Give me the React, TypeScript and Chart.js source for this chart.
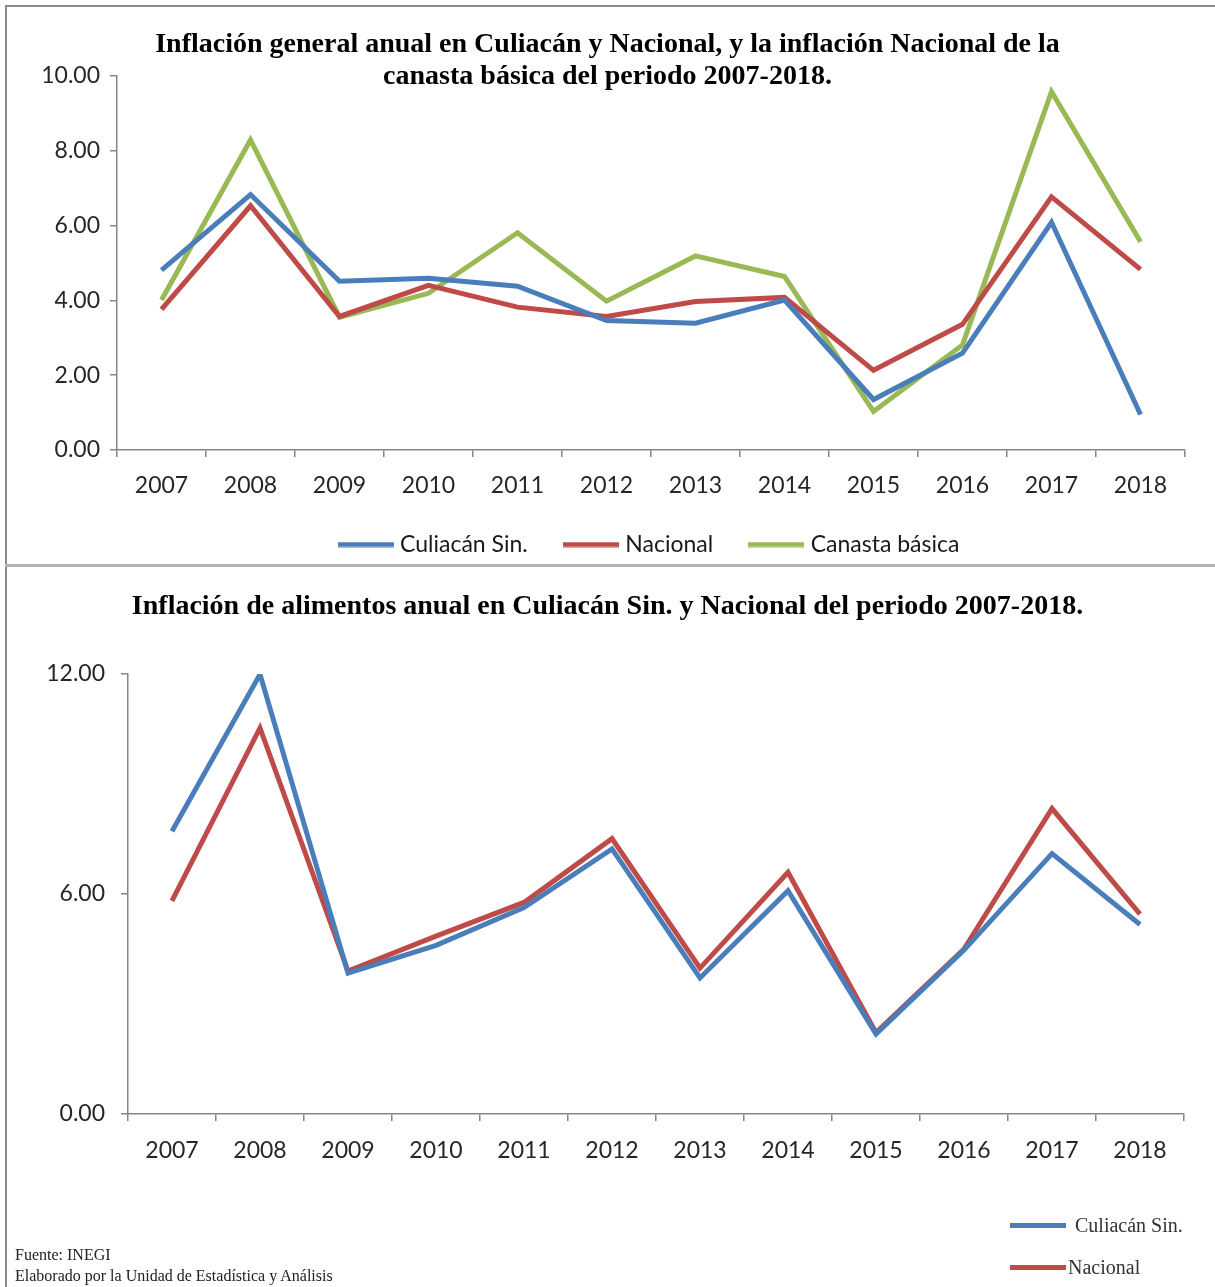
import React, { useEffect, useRef } from 'react';
import { Chart, registerables } from 'chart.js';

Chart.register(...registerables);

const years = ['2007', '2008', '2009', '2010', '2011', '2012', '2013', '2014', '2015', '2016', '2017', '2018'];

const culiacanGeneral = [4.81, 6.83, 4.51, 4.59, 4.38, 3.46, 3.39, 4.01, 1.35, 2.59, 6.09, 0.95];
const nacionalGeneral = [3.76, 6.53, 3.57, 4.40, 3.82, 3.57, 3.97, 4.08, 2.13, 3.36, 6.77, 4.83];
const canastaBasica = [4.01, 8.29, 3.55, 4.19, 5.81, 3.98, 5.19, 4.64, 1.03, 2.81, 9.58, 5.57];

const culiacanAlimentos = [7.71, 11.99, 3.84, 4.60, 5.63, 7.23, 3.71, 6.09, 2.18, 4.47, 7.10, 5.17];
const nacionalAlimentos = [5.81, 10.53, 3.90, 4.85, 5.77, 7.51, 3.98, 6.59, 2.22, 4.50, 8.33, 5.45];

const seriesNames = ['Culiacán Sin.', 'Nacional', 'Canasta básica'];
const topTitle = ['Inflación general anual en Culiacán y Nacional, y la inflación Nacional de la', 'canasta básica del periodo 2007-2018.'];
const bottomTitle = 'Inflación de alimentos anual en Culiacán Sin. y Nacional del periodo 2007-2018.';
const footerLines = ['Fuente: INEGI', 'Elaborado por la Unidad de Estadística y Análisis'];

const BLUE = '#4A7EBB';
const RED = '#BE4B48';
const GREEN = '#98B954';
const AXIS = '#868686';
const TICK_FONT = "Lato, 'Open Sans', sans-serif";
const SERIF = "'Liberation Serif', 'DejaVu Serif', serif";

function legendLine(color: string) {
  const c = document.createElement('canvas');
  c.width = 56;
  c.height = 6;
  const ctx = c.getContext('2d');
  if (ctx) {
    ctx.fillStyle = color;
    ctx.fillRect(0, 0.5, 56, 5);
  }
  return c;
}

function lineDs(label: string, data: number[], color: string) {
  return {
    label,
    data,
    borderColor: color,
    backgroundColor: color,
    borderWidth: 5,
    pointRadius: 0,
    pointHoverRadius: 0,
    pointStyle: legendLine(color) as any,
    tension: 0,
    fill: false,
  };
}

function scales(max: number, step: number, yWidth: number, xHeight: number, yPad: number, xPad: number, rightW: number) {
  return {
    x: {
      type: 'category' as const,
      offset: true,
      grid: { display: true, offset: true, drawOnChartArea: false, drawTicks: true, tickLength: 7, color: AXIS, lineWidth: 1.5 },
      border: { display: true, color: AXIS, width: 1.5 },
      ticks: { color: '#262626', font: { family: TICK_FONT, size: 23 }, padding: xPad, maxRotation: 0, autoSkip: false },
      afterFit: (s: any) => { s.height = xHeight; },
    },
    y: {
      min: 0,
      max,
      grid: { display: true, drawOnChartArea: false, drawTicks: true, tickLength: 7, color: AXIS, lineWidth: 1.5 },
      border: { display: true, color: AXIS, width: 1.5 },
      ticks: {
        stepSize: step,
        color: '#262626',
        font: { family: TICK_FONT, size: 23 },
        padding: yPad,
        callback: (v: any) => Number(v).toFixed(2),
      },
      afterFit: (s: any) => { s.width = yWidth; },
    },
    spacer: {
      type: 'linear' as const,
      position: 'right' as const,
      display: true,
      grid: { display: false, drawTicks: false },
      border: { display: false },
      ticks: { display: false },
      afterFit: (s: any) => { s.width = rightW; },
    },
  };
}

function TopChart() {
  const ref = useRef<HTMLCanvasElement | null>(null);
  useEffect(() => {
    if (!ref.current) return;
    const chart = new Chart(ref.current, {
      type: 'line',
      data: {
        labels: years,
        datasets: [
          lineDs(seriesNames[0], culiacanGeneral, BLUE),
          lineDs(seriesNames[1], nacionalGeneral, RED),
          lineDs(seriesNames[2], canastaBasica, GREEN),
        ],
      },
      options: {
        responsive: false,
        animation: false,
        devicePixelRatio: 1,
        layout: { padding: 0 },
        plugins: {
          title: {
            display: true,
            text: topTitle,
            color: '#000',
            font: { family: SERIF, size: 28, weight: 'bold', lineHeight: 1.143 },
            padding: { top: 29, bottom: -17 },
          },
          legend: {
            display: true,
            position: 'bottom',
            fullSize: false,
            labels: {
              usePointStyle: true,
              pointStyleWidth: 46,
              boxHeight: 23,
              padding: 40,
              color: '#1a1a1a',
              font: { family: TICK_FONT, size: 23 },
            },
          },
          tooltip: { enabled: false },
        },
        scales: scales(10, 2, 117, 43, 10, 15, 30) as any,
      },
    });
    return () => chart.destroy();
  }, []);
  return <canvas ref={ref} width={1215} height={566} style={{ position: 'absolute', left: 0, top: 0, width: 1215, height: 566 }} />;
}

function BottomChart() {
  const ref = useRef<HTMLCanvasElement | null>(null);
  useEffect(() => {
    if (!ref.current) return;
    const chart = new Chart(ref.current, {
      type: 'line',
      data: {
        labels: years,
        datasets: [
          lineDs(seriesNames[0], culiacanAlimentos, BLUE),
          lineDs(seriesNames[1], nacionalAlimentos, RED),
        ],
      },
      options: {
        responsive: false,
        animation: false,
        devicePixelRatio: 1,
        layout: { padding: 0 },
        plugins: {
          title: {
            display: true,
            text: bottomTitle,
            color: '#000',
            font: { family: SERIF, size: 28, weight: 'bold', lineHeight: 1.143 },
            padding: { top: 25, bottom: 51 },
          },
          legend: { display: false },
          tooltip: { enabled: false },
        },
        scales: scales(12, 6, 128, 173, 16, 16, 31) as any,
      },
    });
    return () => chart.destroy();
  }, []);
  return <canvas ref={ref} width={1215} height={721} style={{ position: 'absolute', left: 0, top: 566, width: 1215, height: 721 }} />;
}

export default function App() {
  const legendText: React.CSSProperties = { position: 'absolute', fontFamily: SERIF, fontSize: 20, color: '#333', lineHeight: '22px', whiteSpace: 'nowrap' };
  return (
    <div style={{ position: 'absolute', left: 0, top: 0, width: 1215, height: 1287, background: '#fff', overflow: 'hidden' }}>
      <TopChart />
      <BottomChart />
      {/* frame */}
      <div style={{ position: 'absolute', left: 5, top: 5, width: 1210, height: 2, background: '#8a8a8a' }} />
      <div style={{ position: 'absolute', left: 5, top: 5, width: 2, height: 1282, background: '#8a8a8a' }} />
      <div style={{ position: 'absolute', left: 5, top: 564, width: 1210, height: 3, background: '#b4b4b4' }} />
      {/* bottom legend */}
      <div style={{ position: 'absolute', left: 1010, top: 1223, width: 56, height: 5, background: BLUE }} />
      <div style={{ ...legendText, left: 1075, top: 1214 }}>{seriesNames[0]}</div>
      <div style={{ position: 'absolute', left: 1010, top: 1265, width: 56, height: 5, background: RED }} />
      <div style={{ ...legendText, left: 1068, top: 1256 }}>{seriesNames[1]}</div>
      {/* footer */}
      <div style={{ position: 'absolute', left: 15, top: 1244, fontFamily: SERIF, fontSize: 16, color: '#222', lineHeight: '21px' }}>
        <div>{footerLines[0]}</div>
        <div>{footerLines[1]}</div>
      </div>
    </div>
  );
}
